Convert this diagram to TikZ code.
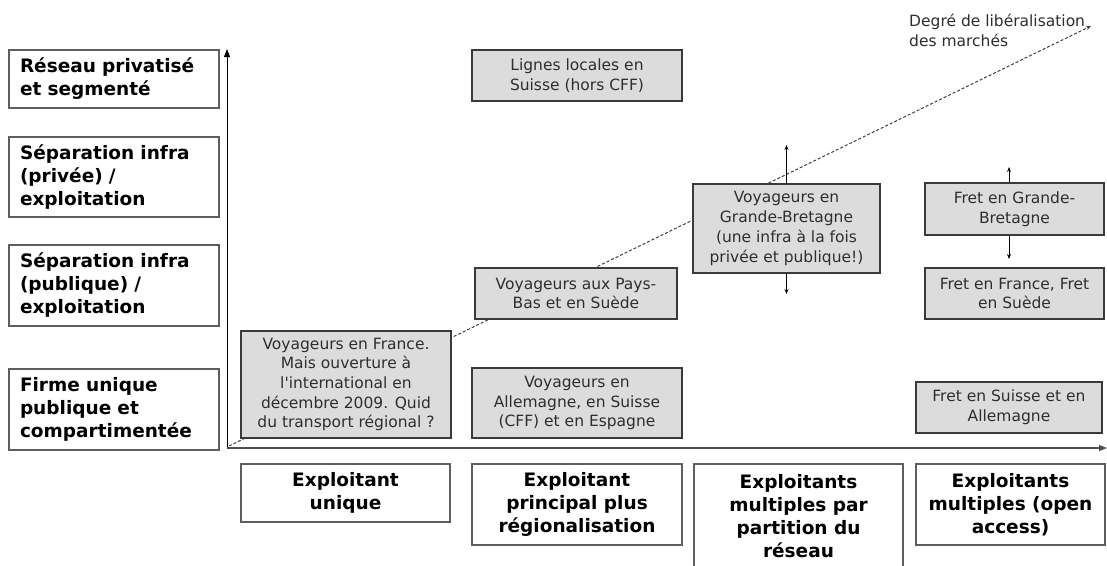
\documentclass[tikz,border=0pt]{standalone}
\usepackage{fontspec}
\setmainfont{DejaVu Sans}
\usetikzlibrary{arrows.meta}
\definecolor{boxfill}{HTML}{DCDCDC}
\definecolor{boxline}{HTML}{3A3A3A}
\definecolor{frameline}{HTML}{5E5E5E}
\definecolor{txt}{HTML}{2E2E2E}
\definecolor{axisline}{HTML}{505050}

\begin{document}
\begin{tikzpicture}[x=1pt,y=-1pt,
  levelbox/.style={draw=frameline, line width=1.1pt, fill=white, inner sep=0pt,
    text width=188pt, minimum width=210pt, align=left,
    font=\fontsize{18.5}{23}\selectfont\bfseries},
  opbox/.style={draw=frameline, line width=1.1pt, fill=white, inner sep=0pt,
    align=center, font=\fontsize{18.5}{23}\selectfont\bfseries},
  casebox/.style={draw=boxline, line width=1.1pt, fill=boxfill, inner sep=0pt,
    align=center, text=txt, font=\fontsize{15.5}{19.7}\selectfont},
  trend/.style={draw=black!75, line width=1pt, dash pattern=on 3pt off 2pt,
    -{Stealth[length=5pt,width=4pt]}},
  axis/.style={line width=1pt, -{Triangle[length=8pt,width=6pt]}},
  moveline/.style={line width=0.9pt, -{Stealth[length=5pt,width=4pt]}}
]
\useasboundingbox[fill=white] (0,0) rectangle (1107,565);

% liberalisation trend, behind the cases
\coordinate (lib0) at (229,446);
\coordinate (lib1) at (1091,26);
\draw[trend] (lib0) -- (lib1);
\node[anchor=north west, inner sep=0pt, align=left, text=txt,
  font=\fontsize{15.5}{20}\selectfont] (deg) at (909,14)
  {Degré de libéralisation\\des marchés};

% vertical scale: organisation of the network
\node[levelbox, minimum height=58pt] (l1) at (114,79) {Réseau privatisé\\et segmenté};
\node[levelbox, minimum height=80pt] (l2) at (114,177) {Séparation infra\\(privée) /\\exploitation};
\node[levelbox, minimum height=81pt] (l3) at (114,285.5) {Séparation infra\\(publique) /\\exploitation};
\node[levelbox, minimum height=81pt] (l4) at (114,409.5) {Firme unique\\publique et\\compartimentée};

% horizontal scale: operators
\node[opbox, minimum width=209pt, minimum height=58pt] (u) at (345.5,493) {Exploitant\\unique};
\node[opbox, minimum width=210pt, minimum height=81pt] (p) at (577,504.5) {Exploitant\\principal plus\\régionalisation};
\node[opbox, minimum width=209pt, minimum height=105pt] (m) at (798.5,516.5) {Exploitants\\multiples par\\partition du\\réseau};
\node[opbox, minimum width=189pt, minimum height=81pt] (o) at (1010.5,504.5) {Exploitants\\multiples (open\\access)};

% national cases
\node[casebox, minimum width=210pt, minimum height=107pt] (fr) at (346,384.5)
  {Voyageurs en France.\\Mais ouverture à\\l\textquotesingle international en\\décembre 2009. Quid\\du transport régional ?};
\node[casebox, minimum width=210pt, minimum height=51pt] (ll) at (577,75.5)
  {Lignes locales en\\Suisse (hors CFF)};
\node[casebox, minimum width=202pt, minimum height=51pt] (pb) at (576,293.5)
  {Voyageurs aux Pays-\\Bas et en Suède};
\node[casebox, minimum width=210pt, minimum height=70pt] (al) at (577,403)
  {Voyageurs en\\Allemagne, en Suisse\\(CFF) et en Espagne};
\node[casebox, minimum width=187pt, minimum height=89pt] (gb) at (786.5,228.5)
  {Voyageurs en\\Grande-Bretagne\\(une infra à la fois\\privée et publique!)};
\node[casebox, minimum width=179pt, minimum height=52pt] (fgb) at (1014.5,209)
  {Fret en Grande-\\Bretagne};
\node[casebox, minimum width=179pt, minimum height=51pt] (ffr) at (1014.5,293.5)
  {Fret en France, Fret\\en Suède};
\node[casebox, minimum width=186pt, minimum height=51pt] (fsu) at (1009,407.5)
  {Fret en Suisse et en\\Allemagne};

% possible moves of the British cases
\coordinate (gbup) at (786.5,145);
\coordinate (gbdown) at (786.5,294);
\draw[moveline] (gb.north) -- (gbup);
\draw[moveline] (gb.south) -- (gbdown);
\coordinate (fgbup) at (1009,167);
\coordinate (fgbdown) at (1009,259);
\draw[moveline] (fgb.north -| fgbup) -- (fgbup);
\draw[moveline] (fgb.south -| fgbdown) -- (fgbdown);

% axes
\coordinate (O) at (227,448);
\coordinate (ytop) at (227,49);
\coordinate (xend) at (1107,448);
\draw[axis] (O) -- (ytop);
\draw[axis, draw=axisline, line width=1.4pt] (O) -- (xend);
\end{tikzpicture}
\end{document}
